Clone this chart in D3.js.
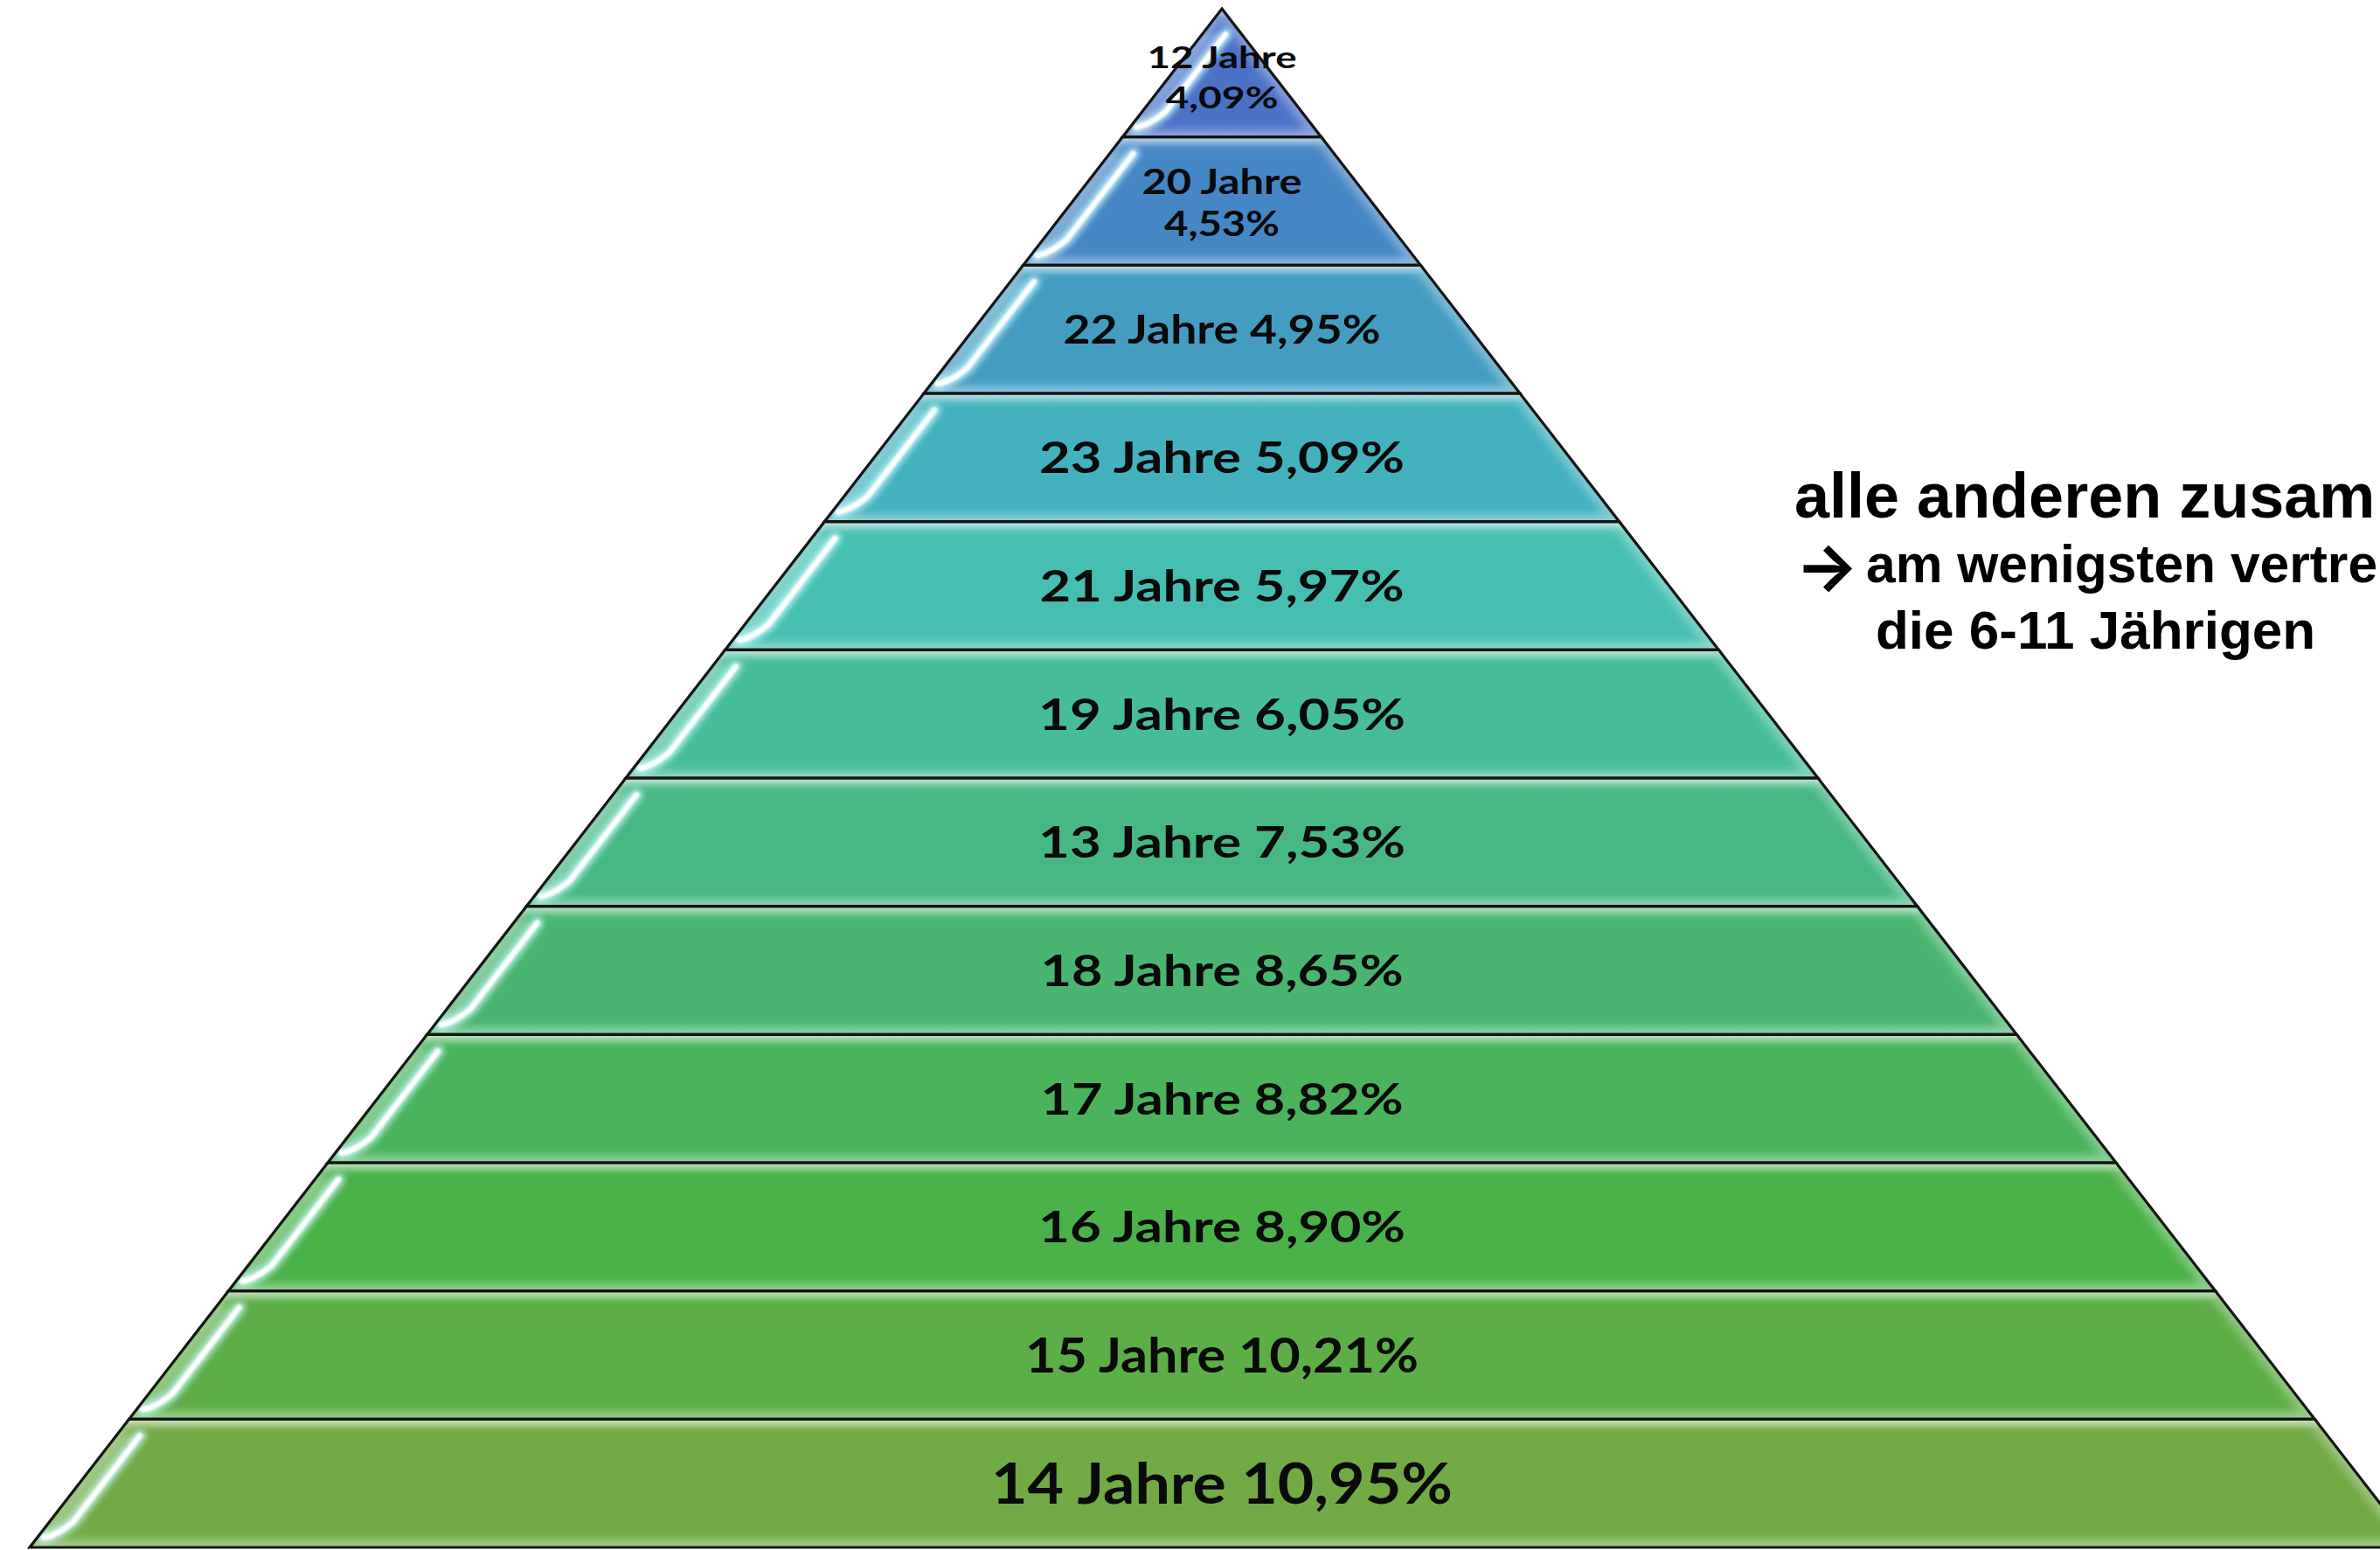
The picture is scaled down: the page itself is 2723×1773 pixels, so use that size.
<!DOCTYPE html>
<html><head><meta charset="utf-8">
<script src="https://cdn.jsdelivr.net/npm/d3@7"></script>
<style>html,body{margin:0;padding:0;background:#fff;overflow:hidden}</style>
</head><body><svg id="chart" width="2723" height="1773"></svg>
<script>
// ---- data (top of pyramid first) ----
const ageGroups = ["12 Jahre","20 Jahre","22 Jahre","23 Jahre","21 Jahre","19 Jahre","13 Jahre","18 Jahre","17 Jahre","16 Jahre","15 Jahre","14 Jahre"];
const shares    = [4.09, 4.53, 4.95, 5.09, 5.97, 6.05, 7.53, 8.65, 8.82, 8.90, 10.21, 10.95];
const twoLineRows = ["12 Jahre","20 Jahre"];
const noteArrow = "\u2192";
const noteLines = ["alle anderen zusam", "am wenigsten vertre", "die 6-11 J\u00e4hrigen"];

// ---- styles ----
const layerColors = ["#4a72c6","#4586c4","#449dc1","#43b1be","#46bfb2","#46bc9a","#47b784","#4ab570","#4ab35b","#4bb149","#5dae47","#72aa46"];
const labelCaps   = [25, 29, 33, 36, 36, 36, 36, 36, 36, 36, 40, 46];
const labelWidths = [null, null, 363, 418, 417, 420, 420, 415, 415, 420, 450, 528];
const twoLineWidths = [[171, 129], [183, 132]];
const twoLineOffsets = [[-5.5, 40.5], [-8, 40]];

const W = 2723, H = 1773;
const cx = 1398, apexY = 10, baseY = 1770, baseHalf = 1364;
const svg = d3.select("#chart");
svg.append("rect").attr("width", W).attr("height", H).attr("fill", "#fff");

const y = d3.scaleBand().domain(ageGroups).range([apexY, baseY]).paddingInner(0).paddingOuter(0);
const half = d3.scaleLinear().domain([apexY, baseY]).range([0, baseHalf]);
const deFormat = d3.formatLocale({decimal: ",", thousands: ".", grouping: [3], currency: ["", "\u20ac"]}).format(".2f");
const pct = v => deFormat(v) + "%";

const defs = svg.append("defs");
const mkBlur = (id, s) => defs.append("filter").attr("id", id).attr("x", "-50%").attr("y", "-50%")
  .attr("width", "200%").attr("height", "200%").append("feGaussianBlur").attr("stdDeviation", s);
mkBlur("blur5", 5); mkBlur("blur1", 1.1); mkBlur("blur3", 3);

const vg = defs.append("linearGradient").attr("id", "topBand").attr("x1", 0).attr("y1", 0).attr("x2", 0).attr("y2", 1);
[[0, 0.55], [0.035, 0.25], [0.08, 0], [0.93, 0], [1, 0.12]].forEach(([o, a]) =>
  vg.append("stop").attr("offset", o).attr("stop-color", "#fff").attr("stop-opacity", a));

const layers = ageGroups.map((age, i) => {
  const y0 = y(age), y1 = y0 + y.bandwidth();
  return {age, share: shares[i], i, y0, y1, color: layerColors[i]};
});
const layerPath = d => {
  const p = d3.path();
  p.moveTo(cx - half(d.y0), d.y0);
  p.lineTo(cx + half(d.y0), d.y0);
  p.lineTo(cx + half(d.y1), d.y1);
  p.lineTo(cx - half(d.y1), d.y1);
  p.closePath();
  return p.toString();
};

layers.forEach(d => {
  defs.append("clipPath").attr("id", "clip" + d.i).append("path").attr("d", layerPath(d));
});

const g = svg.append("g");
const lg = g.selectAll("g.layer").data(layers).join("g").attr("class", "layer")
  .attr("clip-path", d => `url(#clip${d.i})`);

lg.append("path").attr("d", layerPath).attr("fill", d => d.color);
lg.append("path").attr("d", layerPath).attr("fill", "url(#topBand)");
lg.append("path").attr("d", layerPath).attr("fill", "none")
  .attr("stroke", "#fff").attr("stroke-opacity", 0.3).attr("stroke-width", 18).attr("filter", "url(#blur5)");

// glossy streak parallel to the left edge
const geom = d => {
  const h = d.y1 - d.y0, off = 27;
  const ys = d.i === 0 ? d.y0 + 0.2 * h : d.y0 + 0.13 * h;
  const ye = d.y1 - 0.2 * h, yc = d.y1 - 0.09 * h;
  const xl = v => cx - half(v);
  return {h, off, ys, ye, yc, xl};
};
const streak = d => {
  const {off, ys, ye, yc, xl} = geom(d);
  const p = d3.path();
  p.moveTo(xl(ys) + off, ys);
  p.lineTo(xl(ye) + off, ye);
  p.quadraticCurveTo(xl(yc) + off * 0.75, yc, xl(yc) + 6, yc + 2);
  return p.toString();
};
const sheen = d => {
  const {off, ys, ye, yc, xl} = geom(d);
  const p = d3.path();
  p.moveTo(xl(ys) + 2, ys);
  p.lineTo(xl(ys) + off, ys);
  p.lineTo(xl(ye) + off, ye);
  p.quadraticCurveTo(xl(yc) + off * 0.75, yc, xl(yc) + 6, yc + 2);
  p.closePath();
  return p.toString();
};
lg.append("path").attr("d", sheen).attr("fill", "#fff").attr("fill-opacity", 0.16).attr("filter", "url(#blur3)");
lg.append("path").attr("d", streak).attr("fill", "none").attr("stroke", "#c8fbff")
  .attr("stroke-opacity", 0.7).attr("stroke-width", 15).attr("stroke-linecap", "round").attr("filter", "url(#blur3)");
lg.append("path").attr("d", streak).attr("fill", "none").attr("stroke", "#ffffff")
  .attr("stroke-opacity", 1).attr("stroke-width", 6.5).attr("stroke-linecap", "round").attr("filter", "url(#blur1)");

// outlines
g.selectAll("path.outline").data(layers).join("path").attr("class", "outline")
  .attr("d", layerPath).attr("fill", "none").attr("stroke", "#141414").attr("stroke-width", 3.2)
  .attr("stroke-linejoin", "miter");

// labels
const LATO_CAP = 0.7165;
const tg = svg.append("g").attr("font-family", "Lato, 'Open Sans', sans-serif").attr("font-weight", 700)
  .attr("fill", "#0a0a0a").attr("text-anchor", "middle");
layers.forEach(d => {
  const cap = labelCaps[d.i];
  const fs = cap / LATO_CAP;
  const mid = (d.y0 + d.y1) / 2;
  const k = twoLineRows.indexOf(d.age);
  if (k >= 0) {
    [d.age, pct(d.share)].forEach((t, j) => {
      tg.append("text").attr("x", cx).attr("y", mid + twoLineOffsets[k][j])
        .attr("font-size", fs).attr("textLength", twoLineWidths[k][j])
        .attr("lengthAdjust", "spacingAndGlyphs").text(t);
    });
  } else {
    tg.append("text").attr("x", cx).attr("y", mid + cap / 2)
      .attr("font-size", fs).attr("textLength", labelWidths[d.i])
      .attr("lengthAdjust", "spacingAndGlyphs").text(`${d.age} ${pct(d.share)}`);
  }
});

// side note
const ng = svg.append("g").attr("font-family", "'Liberation Sans', Arial, sans-serif").attr("font-weight", 700).attr("fill", "#000");
const noteX = [2053, 2135, 2146], noteY = [592, 666, 742], noteSize = [72, 60.5, 62];
noteLines.forEach((t, j) => {
  ng.append("text").attr("x", noteX[j]).attr("y", noteY[j]).attr("font-size", noteSize[j]).text(t);
});
ng.append("text").attr("x", 2054).attr("y", 675)
  .attr("font-family", "Inter, 'Noto Sans CJK SC', sans-serif").attr("font-weight", 700)
  .attr("font-size", 76).text(noteArrow);
</script>
</body></html>
